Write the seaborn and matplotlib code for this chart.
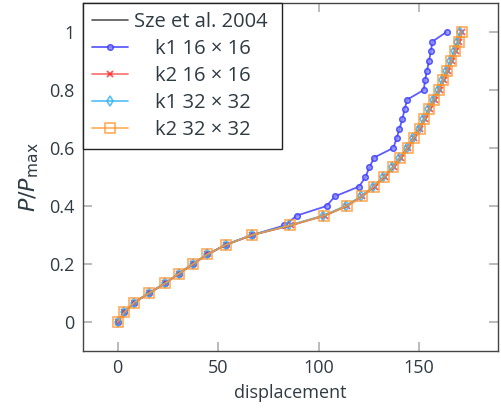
import matplotlib
matplotlib.use("Agg")
import matplotlib.pyplot as plt
import seaborn as sns
import pandas as pd

# Normalised load levels P/Pmax at each load step
load = [0.0, 0.033, 0.067, 0.1, 0.133, 0.167, 0.2, 0.233, 0.267, 0.3, 0.333,
        0.367, 0.4, 0.433, 0.467, 0.5, 0.533, 0.567, 0.6, 0.633, 0.667,
        0.7, 0.733, 0.767, 0.8, 0.833, 0.867, 0.9, 0.933, 0.967, 1.0]

# Displacement at each load level
sze_2004 = [0.0, 3.3, 8.3, 15.7, 23.6, 30.5, 37.5, 44.6, 54.1, 67.0, 85.8,
            102.8, 113.8, 121.4, 127.5, 132.5, 137.0, 140.6, 144.3, 147.2, 150.2,
            152.6, 155.1, 157.4, 159.9, 161.9, 164.0, 166.0, 168.0, 169.7, 171.1]
k1_16 = [0.0, 3.3, 8.3, 15.7, 23.6, 30.5, 37.5, 44.6, 54.1, 67.0, 83.0,
         89.2, 104.0, 108.0, 120.1, 123.3, 125.2, 127.6, 137.1, 138.8, 140.2,
         141.7, 142.7, 144.1, 152.3, 152.9, 153.9, 154.9, 155.8, 156.6, 163.6]
k2_16 = [0.0, 3.3, 8.3, 15.7, 23.6, 30.5, 37.5, 44.6, 54.1, 67.0, 86.2,
         103.3, 114.2, 121.7, 127.8, 132.8, 137.3, 140.9, 144.6, 147.5, 150.5,
         152.9, 155.4, 157.7, 160.2, 162.2, 164.3, 166.3, 168.3, 170.0, 171.4]
k1_32 = [0.0, 3.3, 8.3, 15.7, 23.6, 30.5, 37.5, 44.6, 54.0, 66.8, 85.3,
         102.3, 113.4, 121.0, 127.1, 132.1, 136.6, 140.2, 143.8, 146.7, 149.7,
         152.1, 154.5, 156.8, 159.3, 161.3, 163.4, 165.3, 167.3, 169.0, 170.4]
k2_32 = [0.0, 3.3, 8.3, 15.7, 23.6, 30.5, 37.5, 44.6, 54.1, 67.0, 85.8,
         102.8, 113.9, 121.5, 127.5, 132.5, 137.1, 140.7, 144.3, 147.2, 150.2,
         152.6, 155.1, 157.4, 159.9, 161.9, 164.0, 166.0, 168.0, 169.7, 171.1]

labels = ["Sze et al. 2004 ", "    k1 16 × 16", "    k2 16 × 16",
          "    k1 32 × 32", "    k2 32 × 32"]

TEXT = "#2f3b43"

sns.set_theme(style="white")
plt.rcParams["font.family"] = ["Open Sans", "DejaVu Sans"]
plt.rcParams["mathtext.fontset"] = "dejavusans"
plt.rcParams["text.color"] = TEXT
plt.rcParams["axes.labelcolor"] = TEXT
plt.rcParams["xtick.color"] = TEXT
plt.rcParams["ytick.color"] = TEXT

fig = plt.figure(figsize=(5.01, 4.09), dpi=100)
ax = fig.add_axes([0.1657, 0.1418, 0.8283, 0.851])

styles = [
    dict(color="#555555", marker=None, lw=1.2),
    dict(color="#3535ff", marker="o", ms=4.0, mfc="#8a8aff", mec="#3535ff",
         mew=1.1, lw=1.3, alpha=0.8),
    dict(color="#ff4040", marker="x", ms=3.8, mec="#ff1010", mew=1.3, lw=1.3,
         alpha=0.7),
    dict(color="#35b5f0", marker="d", ms=5.5, mfc="none", mec="#30b0f0",
         mew=1.2, lw=1.3, alpha=0.8),
    dict(color="#ff9a35", marker="s", ms=7.0, mfc="none", mec="#ff9025",
         mew=1.2, lw=1.3, alpha=0.75),
]
series = [sze_2004, k1_16, k2_16, k1_32, k2_32]

for xs, lab, st in zip(series, labels, styles):
    df = pd.DataFrame({"displacement": xs, "load": load})
    st = dict(st)
    lw = st.pop("lw")
    sns.lineplot(data=df, x="displacement", y="load", ax=ax, sort=False,
                 estimator=None, label=lab, linewidth=lw, **st)

ax.set_xlim(-17.2, 189.2)
ax.set_ylim(-0.1, 1.1)
ax.set_xticks([0, 50, 100, 150])
ax.set_yticks([0, 0.2, 0.4, 0.6, 0.8, 1.0])
ax.set_yticklabels(["0", "0.2", "0.4", "0.6", "0.8", "1"])
ax.tick_params(direction="in", length=6.5, width=1.3, color="#b5b5b5",
               labelsize=13, top=True, right=True, bottom=True, left=True,
               pad=6)
ax.set_xlabel("displacement", fontsize=13, labelpad=5)
ax.set_ylabel(r"$P/P_{\max}$", fontsize=16, labelpad=6)
for sp in ax.spines.values():
    sp.set_color("#454545")
    sp.set_linewidth(1.0)

leg = ax.legend(loc="upper left", bbox_to_anchor=(0, 1), borderaxespad=0,
                fontsize=14.5, frameon=True, fancybox=False, handlelength=1.8,
                handletextpad=0.3, borderpad=0.45, labelspacing=0.35)
leg.get_frame().set_edgecolor("#222222")
leg.get_frame().set_linewidth(1.0)
leg.get_frame().set_alpha(1)

fig.savefig("out.png", dpi=100)
